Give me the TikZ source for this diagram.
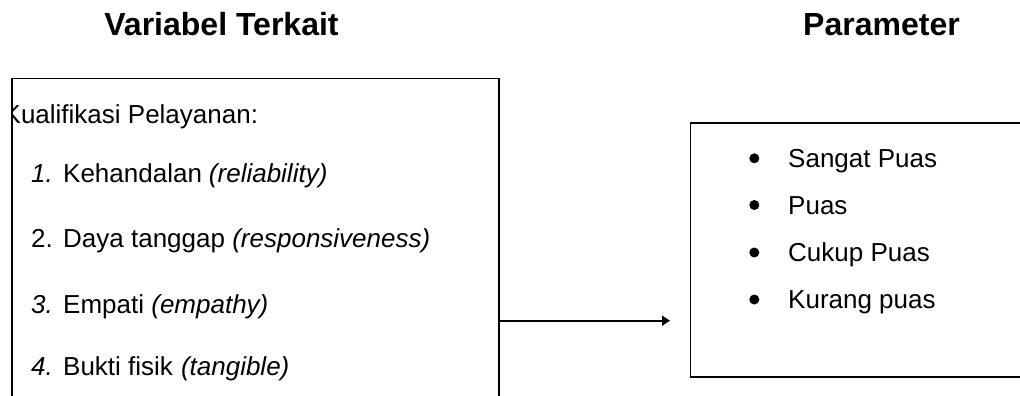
\documentclass[tikz,border=0pt]{standalone}
\usepackage{fontspec}
\setmainfont{Liberation Sans}
\usetikzlibrary{arrows.meta}
\begin{document}
\begin{tikzpicture}[x=1pt,y=-1pt,
  boxline/.style={line width=1.8pt,draw=black},
  title/.style={font=\fontsize{32}{36}\selectfont\bfseries,inner sep=0pt,anchor=base},
  item/.style={font=\fontsize{26}{30}\selectfont,inner sep=0pt,anchor=base west},
  dot/.style={circle,fill=black,inner sep=0pt,minimum size=10pt},
  arr/.style={line width=1.8pt,-{Triangle[length=8pt,width=10pt]}}]
\useasboundingbox (0,0) rectangle (1020,396);
\fill[white] (0,0) rectangle (1020,396);
% titles
\node[title] (t1) at (221.5,36) {Variabel Terkait};
\node[title] (t2) at (881.5,36) {Parameter};
% left box (open at bottom)
\coordinate (LBbl) at (11.7,397);
\coordinate (LBtl) at (11.7,78.5);
\coordinate (LBtr) at (499,78.5);
\coordinate (LBbr) at (499,397);
\draw[boxline] (LBbl) -- (LBtl) -- (LBtr) -- (LBbr);
\begin{scope}
\clip (12.6,79) rectangle (498,396);
\node[item] (k0) at (3.5,123) {Kualifikasi Pelayanan:};
\end{scope}
\node[item] (k1) at (31,182) {\makebox[32pt][l]{\itshape 1.}Kehandalan\hspace{7pt}\textit{(reliability)}};
\node[item] (k2) at (31,247.3) {\makebox[32pt][l]{2.}Daya tanggap \textit{(responsiveness)}};
\node[item] (k3) at (31,313) {\makebox[32pt][l]{\itshape 3.}Empati \textit{(empathy)}};
\node[item] (k4) at (31,375) {\makebox[32pt][l]{\itshape 4.}Bukti fisik\hspace{8pt}\textit{(tangible)}};
% right box (right side beyond page)
\coordinate (RBtr) at (1022,123.3);
\coordinate (RBtl) at (690.5,123.3);
\coordinate (RBbl) at (690.5,376.7);
\coordinate (RBbr) at (1022,376.7);
\draw[boxline] (RBtr) -- (RBtl) -- (RBbl) -- (RBbr);
\node[dot] (d1) at (754.3,158.3) {};
\node[dot] (d2) at (754.3,205) {};
\node[dot] (d3) at (754.3,252.5) {};
\node[dot] (d4) at (754.3,299.5) {};
\node[item] (p1) at (788,167.3) {Sangat Puas};
\node[item] (p2) at (788,214) {Puas};
\node[item] (p3) at (788,261.5) {Cukup Puas};
\node[item] (p4) at (788,308.5) {Kurang puas};
% arrow
\coordinate (As) at (499,320.7);
\coordinate (Ae) at (670,320.7);
\draw[arr] (As) -- (Ae);
\end{tikzpicture}
\end{document}
